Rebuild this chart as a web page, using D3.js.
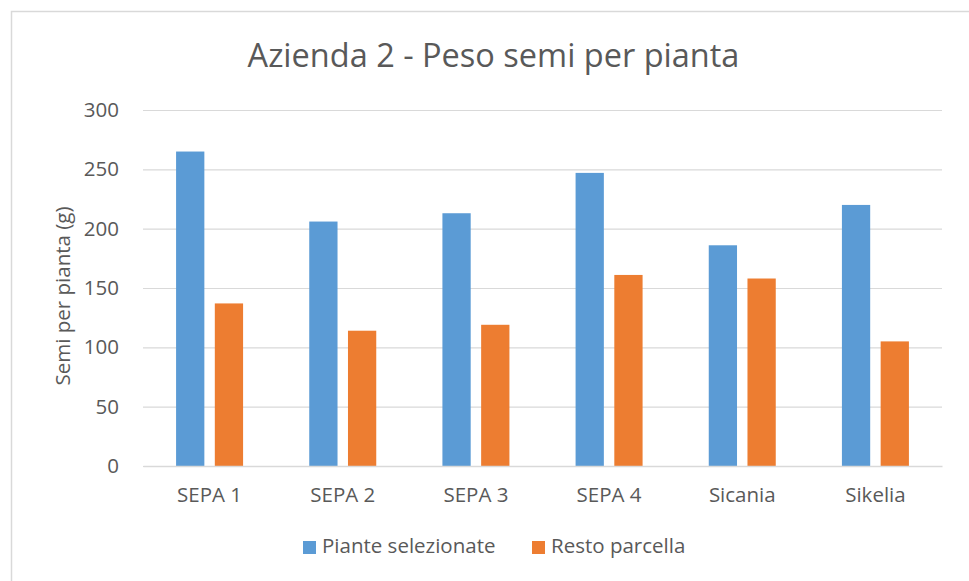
<!DOCTYPE html>
<html>
<head>
<meta charset="utf-8">
<script src="https://cdn.jsdelivr.net/npm/d3@7"></script>
<style>
  body { margin: 0; background: #fff; }
  text { font-family: "Open Sans", sans-serif; fill: #595959; }
</style>
</head>
<body>
<div id="chart"></div>
<script>
const categories = ["SEPA 1", "SEPA 2", "SEPA 3", "SEPA 4", "Sicania", "Sikelia"];
const seriesNames = ["Piante selezionate", "Resto parcella"];
const piante = [265, 206, 213, 247, 186, 220];
const resto = [137, 114, 119, 161, 158, 105];
const yTicks = [0, 50, 100, 150, 200, 250, 300];
const colors = ["#5B9BD5", "#ED7D31"];

const width = 969, height = 581;
const margin = { top: 110, right: 27, bottom: 115, left: 143 };
const iw = width - margin.left - margin.right;
const ih = height - margin.top - margin.bottom;
const fs = "20.5px";

const svg = d3.select("#chart").append("svg")
    .attr("width", width)
    .attr("height", height);

// outer chart border (runs off the right/bottom edge)
svg.append("rect")
    .attr("x", 11.5).attr("y", 11.5)
    .attr("width", 980).attr("height", 600)
    .attr("fill", "none")
    .attr("stroke", "#D9D9D9")
    .attr("stroke-width", 1.5);

const g = svg.append("g")
    .attr("transform", `translate(${margin.left}, ${margin.top})`);

const x = d3.scaleBand()
    .domain(categories)
    .range([0, iw]);
const x1 = d3.scaleBand()
    .domain(seriesNames)
    .range([0, 67])
    .paddingInner(0.27);
const y = d3.scaleLinear()
    .domain([0, 300])
    .range([ih, 0]);

// grid lines
g.append("g")
    .attr("class", "grid")
    .call(d3.axisLeft(y).tickValues(yTicks).tickSize(-iw).tickFormat(""))
    .call(a => a.select(".domain").remove())
    .call(a => a.selectAll("line").attr("stroke", "#D9D9D9").attr("stroke-width", 1.2));

// y labels
g.append("g")
    .attr("class", "y-axis")
    .call(d3.axisLeft(y).tickValues(yTicks).tickSize(0).tickPadding(24))
    .call(a => a.select(".domain").remove())
    .call(a => a.selectAll("text").style("font-size", fs).attr("fill", "#595959"));

// bars
const data = categories.map((c, i) => ({ cat: c, vals: [piante[i], resto[i]] }));
const groups = g.append("g").attr("class", "bars")
    .selectAll("g")
    .data(data)
    .enter()
    .append("g")
    .attr("transform", d => `translate(${x(d.cat) + x.bandwidth() / 2 - 33.5}, 0)`);
groups.selectAll("rect")
    .data(d => d.vals.map((v, j) => ({ name: seriesNames[j], v: v, j: j })))
    .enter()
    .append("rect")
    .attr("x", d => x1(d.name))
    .attr("y", d => y(d.v))
    .attr("width", x1.bandwidth())
    .attr("height", d => ih - y(d.v))
    .attr("fill", d => colors[d.j]);

// x axis
g.append("g")
    .attr("class", "x-axis")
    .attr("transform", `translate(0, ${ih})`)
    .call(d3.axisBottom(x).tickSize(0).tickPadding(21))
    .call(a => a.select(".domain").attr("stroke", "#D9D9D9").attr("stroke-width", 1.5))
    .call(a => a.selectAll("text").style("font-size", fs).attr("fill", "#595959"));

// title
svg.append("text")
    .attr("x", 493.5).attr("y", 67)
    .attr("text-anchor", "middle")
    .style("font-size", "32.5px")
    .text("Azienda 2 - Peso semi per pianta");

// y title
svg.append("text")
    .attr("transform", "translate(70, 296) rotate(-90)")
    .attr("text-anchor", "middle")
    .style("font-size", fs)
    .text("Semi per pianta (g)");

// legend
const legendX = [303, 532];
const legend = svg.append("g").attr("class", "legend")
    .selectAll("g")
    .data(seriesNames)
    .enter()
    .append("g")
    .attr("transform", (d, i) => `translate(${legendX[i]}, 541)`);
legend.append("rect")
    .attr("width", 13).attr("height", 13)
    .attr("fill", (d, i) => colors[i]);
legend.append("text")
    .attr("x", 19).attr("y", 12)
    .style("font-size", fs)
    .text(d => d);
</script>
</body>
</html>
